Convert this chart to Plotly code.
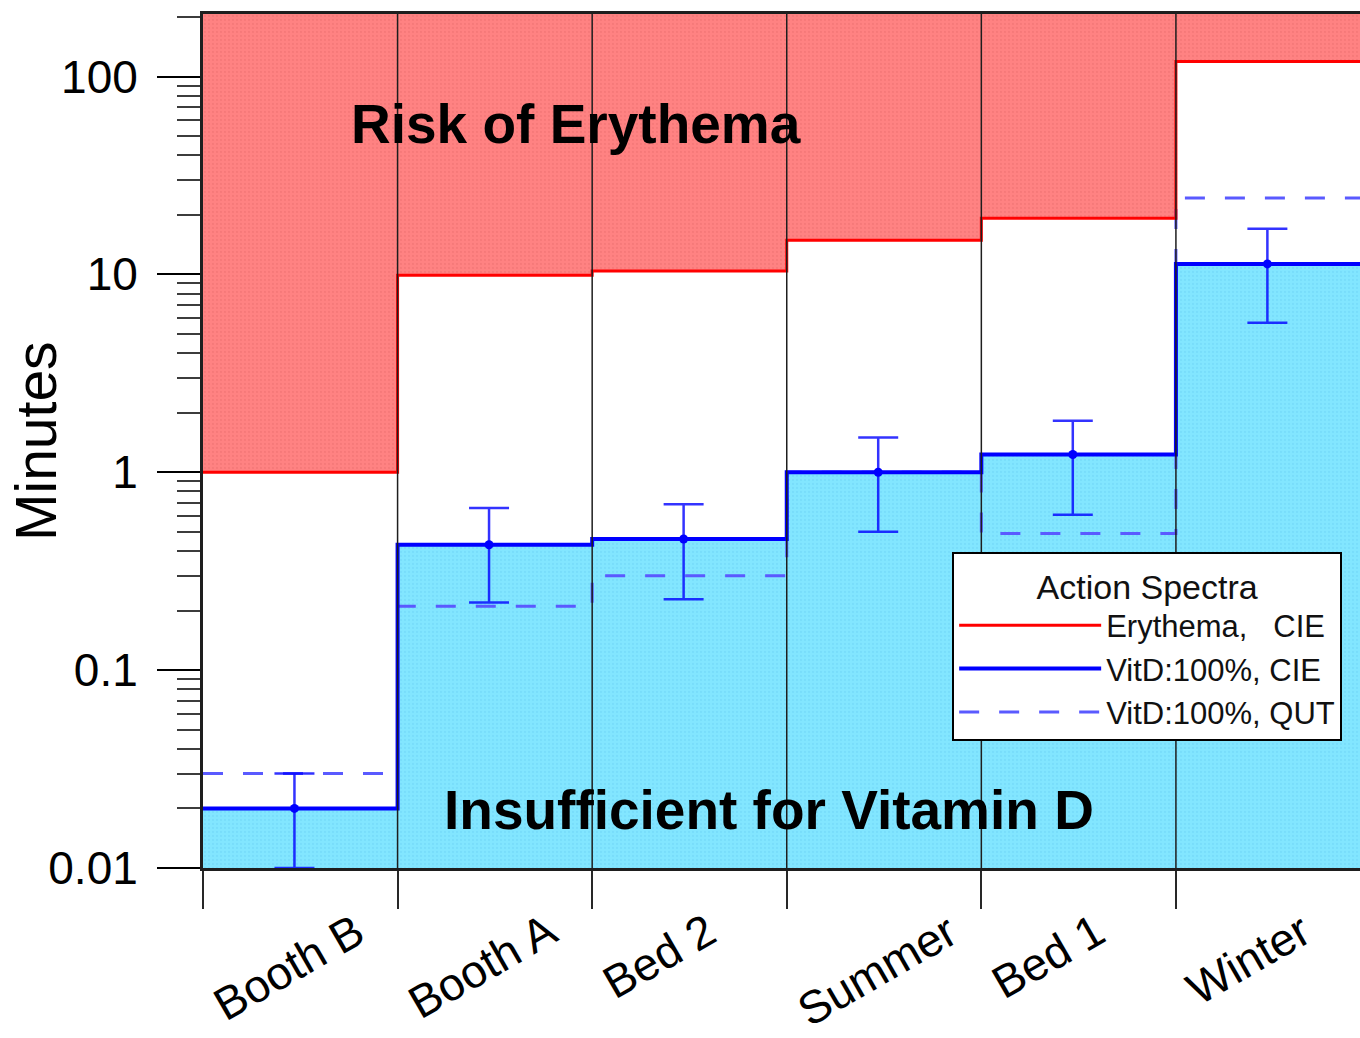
import plotly.graph_objects as go

# Exposure sources (one bin each on the x axis)
sources = ["Booth B", "Booth A", "Bed 2", "Summer", "Bed 1", "Winter"]

# Minutes to reach the erythema threshold (CIE action spectrum)
erythema_cie = [1.0, 9.9, 10.4, 14.9, 19.2, 119]

# Minutes for 100% vitamin D dose, CIE action spectrum, with error range
vitd_cie = [0.02, 0.43, 0.46, 1.0, 1.23, 11.3]
vitd_cie_hi = [0.03, 0.66, 0.69, 1.50, 1.82, 17.0]
vitd_cie_lo = [0.01, 0.22, 0.228, 0.50, 0.61, 5.7]

# Minutes for 100% vitamin D dose, QUT action spectrum
vitd_qut = [0.03, 0.21, 0.30, 1.0, 0.49, 24.3]

y_ticks = [0.01, 0.1, 1, 10, 100]
y_tick_text = ["0.01", "0.1", "1", "10", "100"]

FONT = "Liberation Sans, Arial, sans-serif"
n = len(sources)
edges = list(range(n + 1))            # bin edges 0..n


def step(values):
    """Step-line y values over the bin edges (last value repeated)."""
    return list(values) + [values[-1]]


minor_vals = [k * 10.0 ** e for e in range(-2, 3) for k in range(2, 10)]

fig = go.Figure()

# Red "risk" area: between the erythema step line and the top of the plot
fig.add_trace(go.Scatter(x=[0, n], y=[1e4, 1e4], mode="lines",
                         line=dict(width=0), showlegend=False, hoverinfo="skip"))
fig.add_trace(go.Scatter(
    x=edges, y=step(erythema_cie), mode="lines", line_shape="hv",
    line=dict(width=0), fill="tonexty", fillcolor="rgb(255,128,128)",
    fillpattern=dict(shape=".", bgcolor="rgb(255,130,130)",
                     fgcolor="rgb(236,112,112)", size=4, solidity=0.25),
    showlegend=False, hoverinfo="skip"))

# Cyan "insufficient" area: from the bottom up to the CIE vitamin D line
fig.add_trace(go.Scatter(x=[0, n], y=[1e-4, 1e-4], mode="lines",
                         line=dict(width=0), showlegend=False, hoverinfo="skip"))
fig.add_trace(go.Scatter(
    x=edges, y=step(vitd_cie), mode="lines", line_shape="hv",
    line=dict(width=0), fill="tonexty", fillcolor="rgb(128,228,255)",
    fillpattern=dict(shape=".", bgcolor="rgb(130,230,255)",
                     fgcolor="rgb(110,212,245)", size=4, solidity=0.25),
    showlegend=False, hoverinfo="skip"))

# Step lines
fig.add_trace(go.Scatter(
    x=edges, y=step(vitd_qut), mode="lines", line_shape="hv",
    line=dict(color="rgb(90,90,255)", width=3, dash="20px,20px"),
    name="VitD:100%, QUT", legendrank=3))
fig.add_trace(go.Scatter(
    x=edges, y=step(erythema_cie), mode="lines", line_shape="hv",
    line=dict(color="rgb(255,0,0)", width=3),
    name="Erythema,\u00a0\u00a0\u00a0CIE", legendrank=1))
fig.add_trace(go.Scatter(
    x=edges, y=step(vitd_cie), mode="lines", line_shape="hv",
    line=dict(color="rgb(0,0,255)", width=4),
    name="VitD:100%, CIE", legendrank=2))

# Error bars on the CIE vitamin D values, near each bin centre
err_x = [i + 0.47 for i in range(n)]
fig.add_trace(go.Scatter(
    x=err_x, y=vitd_cie, mode="markers",
    marker=dict(color="rgb(0,0,255)", size=9),
    error_y=dict(type="data", symmetric=False,
                 array=[h - v for h, v in zip(vitd_cie_hi, vitd_cie)],
                 arrayminus=[v - l for v, l in zip(vitd_cie, vitd_cie_lo)],
                 color="rgba(0,0,255,0.8)", thickness=2.5, width=20),
    showlegend=False, hoverinfo="skip"))

# Vertical separators between bins
for e in edges[1:]:
    fig.add_shape(type="line", x0=e, x1=e, xref="x", y0=0, y1=1, yref="paper",
                  line=dict(color="rgb(30,30,30)", width=1.5), layer="above")

# Rotated source labels under each bin
for i, s in enumerate(sources):
    fig.add_annotation(x=i + 0.5, y=0, xref="x", yref="paper", text=s,
                       textangle=-30, showarrow=False, xanchor="left",
                       yanchor="top", xshift=-98, yshift=-33,
                       font=dict(family=FONT, size=46, color="black"))

# Region captions
fig.add_annotation(x=0.322, y=0.871, xref="paper", yref="paper",
                   xanchor="center", yanchor="middle",
                   text="<b>Risk of Erythema</b>", showarrow=False,
                   font=dict(family=FONT, size=55, color="black"))
fig.add_annotation(x=0.489, y=0.068, xref="paper", yref="paper",
                   xanchor="center", yanchor="middle",
                   text="<b>Insufficient for Vitamin D</b>", showarrow=False,
                   font=dict(family=FONT, size=55, color="black"))

# Y axis title
fig.add_annotation(x=0, y=0.5, xref="paper", yref="paper", text="Minutes",
                   textangle=-90, showarrow=False, xanchor="center",
                   yanchor="middle", xshift=-167,
                   font=dict(family=FONT, size=57, color="black"))

fig.update_layout(
    width=1360, height=1038,
    margin=dict(l=203, r=0, t=14, b=170),
    paper_bgcolor="white", plot_bgcolor="white",
    font=dict(family=FONT, color="black"),
    showlegend=True,
    legend=dict(
        x=0.6475, y=0.3695, xanchor="left", yanchor="top",
        traceorder="normal",
        bgcolor="white", bordercolor="black", borderwidth=2,
        font=dict(family=FONT, size=31, color="#111"),
        title=dict(text="Action Spectra", side="top center",
                   font=dict(family=FONT, size=34, color="#111")),
        itemwidth=142, tracegroupgap=0,
    ),
    xaxis=dict(
        range=[0, 5.946], showgrid=False, zeroline=False,
        tickmode="array", tickvals=edges, showticklabels=False,
        ticks="outside", ticklen=38, tickwidth=2, tickcolor="rgb(40,40,40)",
        showline=True, linecolor="rgb(30,30,30)", linewidth=3, mirror=True,
    ),
    yaxis=dict(
        type="log", range=[-2, 2.316], showgrid=False, zeroline=False,
        tickmode="array", tickvals=y_ticks, ticktext=y_tick_text,
        ticks="outside", ticklen=43, tickwidth=2, tickcolor="black",
        ticklabelstandoff=10,
        tickfont=dict(family=FONT, size=46, color="black"),
        minor=dict(tickmode="array", tickvals=minor_vals, ticks="outside",
                   ticklen=23, tickwidth=2, tickcolor="rgb(60,60,60)"),
        showline=True, linecolor="rgb(30,30,30)", linewidth=3,
    ),
)

fig.write_html("out.html")
